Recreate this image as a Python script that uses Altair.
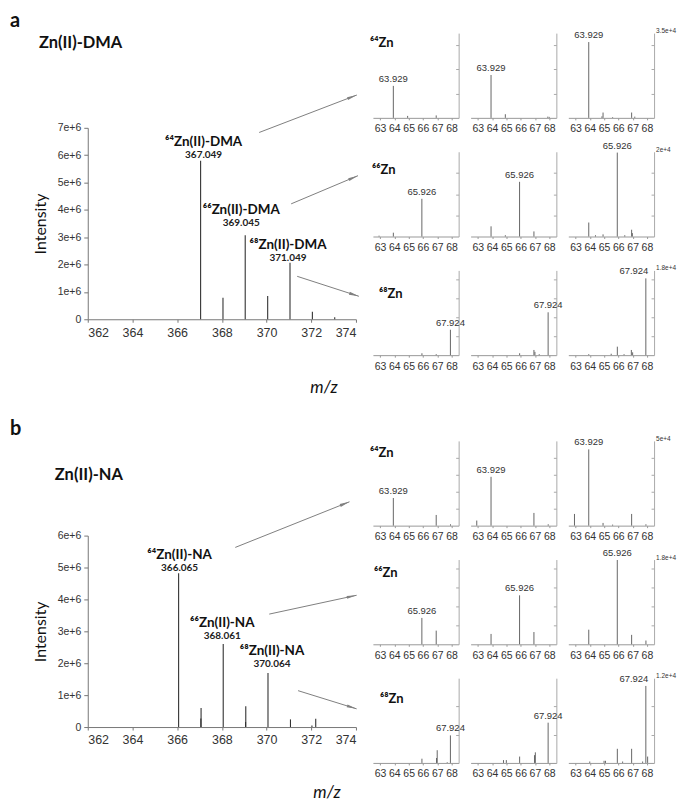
import math
import altair as alt
import pandas as pd

NUM_FONT = "Liberation Sans"
LBL_FONT = "Lato"

# ---------------- data: main spectra ----------------
mainA_mz = [367.049, 368.050, 369.045, 370.050, 371.049, 372.050, 373.050]
mainA_int = [5.80e6, 0.79e6, 3.07e6, 0.85e6, 2.07e6, 0.27e6, 0.07e6]
mainB_mz = [366.065, 367.060, 367.070, 368.061, 369.060, 369.070, 370.064, 371.070, 372.030, 372.200]
mainB_int = [4.82e6, 0.27e6, 0.60e6, 2.60e6, 0.16e6, 0.65e6, 1.69e6, 0.24e6, 0.05e6, 0.26e6]

ionA_names = ["⁶⁴Zn(II)-DMA", "⁶⁶Zn(II)-DMA", "⁶⁸Zn(II)-DMA"]
ionA_mz = [367.049, 369.045, 371.049]
ionB_names = ["⁶⁴Zn(II)-NA", "⁶⁶Zn(II)-NA", "⁶⁸Zn(II)-NA"]
ionB_mz = [366.065, 368.061, 370.064]

main_ymax = [7e6, 6e6]
section_titles = ["Zn(II)-DMA", "Zn(II)-NA"]
section_letters = ["a", "b"]

# arrows (m/z, intensity) start -> end
arrowA_x0 = [369.67, 371.10, 371.37]
arrowA_y0 = [6.83e6, 4.22e6, 1.57e6]
arrowA_x1 = [374.04, 374.09, 374.13]
arrowA_y1 = [8.20e6, 5.25e6, 0.84e6]
arrowB_x0 = [368.60, 370.12, 371.41]
arrowB_y0 = [5.63e6, 3.54e6, 1.14e6]
arrowB_x1 = [373.71, 374.03, 374.03]
arrowB_y1 = [7.06e6, 4.13e6, 0.57e6]

# ---------------- data: isotope zoom panels ----------------
iso_names = ["⁶⁴Zn", "⁶⁶Zn", "⁶⁸Zn"]
iso_mz = [63.929, 65.926, 67.924]

a64_mz = [[63.929, 64.93, 66.93], [63.929, 64.93, 67.90, 68.00],
          [63.929, 64.85, 64.93, 65.60, 66.93, 67.15]]
a64_int = [[1.32e4, 0.08e4, 0.10e4], [1.77e4, 0.15e4, 0.05e4, 0.04e4],
           [3.13e4, 0.06e4, 0.22e4, 0.03e4, 0.22e4, 0.05e4]]
a66_mz = [[62.93, 63.93, 65.926], [63.93, 64.93, 65.926, 66.93],
          [63.93, 64.40, 64.93, 65.926, 66.45, 66.93, 66.98]]
a66_int = [[0.02e4, 0.09e4, 0.89e4], [0.24e4, 0.03e4, 1.29e4, 0.12e4],
           [0.33e4, 0.03e4, 0.05e4, 1.98e4, 0.03e4, 0.16e4, 0.08e4]]
a68_mz = [[65.93, 66.93, 67.924], [65.93, 66.93, 67.00, 67.30, 67.924],
          [63.93, 65.50, 65.93, 66.40, 66.91, 67.00, 67.924]]
a68_int = [[0.04e4, 0.02e4, 0.54e4], [0.04e4, 0.11e4, 0.07e4, 0.02e4, 0.91e4],
           [0.02e4, 0.03e4, 0.18e4, 0.02e4, 0.11e4, 0.06e4, 1.63e4]]

b64_mz = [[63.929, 66.93, 67.93], [62.93, 63.929, 66.93, 67.93],
          [62.93, 63.929, 64.93, 65.60, 66.93, 67.93]]
b64_int = [[1.63e4, 0.63e4, 0.08e4], [0.30e4, 2.88e4, 0.75e4, 0.08e4],
           [0.69e4, 4.50e4, 0.16e4, 0.06e4, 0.69e4, 0.08e4]]
b66_mz = [[65.926, 66.93], [63.93, 65.926, 66.93], [63.93, 65.926, 66.93, 67.93]]
b66_int = [[0.56e4, 0.29e4], [0.22e4, 1.04e4, 0.26e4], [0.31e4, 1.79e4, 0.20e4, 0.08e4]]
b68_mz = [[65.93, 66.95, 67.00, 67.70, 67.924],
          [64.80, 65.00, 65.93, 66.97, 67.03, 67.924],
          [64.00, 65.00, 65.10, 65.93, 66.30, 66.93, 67.70, 67.924, 68.05]]
b68_int = [[0.06e4, 0.07e4, 0.18e4, 0.01e4, 0.39e4],
           [0.04e4, 0.04e4, 0.09e4, 0.11e4, 0.15e4, 0.57e4],
           [0.02e4, 0.03e4, 0.03e4, 0.20e4, 0.02e4, 0.20e4, 0.02e4, 1.09e4, 0.09e4]]

rowmaxA = [3.5e4, 2.0e4, 1.8e4]
rowmaxB = [5.0e4, 1.8e4, 1.2e4]
rowmaxA_lbl = ["3.5e+4", "2e+4", "1.8e+4"]
rowmaxB_lbl = ["5e+4", "1.8e+4", "1.2e+4"]
rowticksA = [[1e4, 2e4, 3e4], [0.5e4, 1.0e4, 1.5e4], [0.4e4, 0.8e4, 1.2e4, 1.6e4]]
rowticksB = [[1e4, 2e4, 3e4, 4e4], [0.4e4, 0.8e4, 1.2e4, 1.6e4], [0.4e4, 0.8e4]]

# ---------------- layout constants ----------------
MAIN_CELL_W, MAIN_W, MAIN_H, MAIN_TOP = 274, 269, 287, 95
SP_W, SP_H = 86, 85
ion_offsets = {  # (dx, dy name, dy value) in px
    0: [(3, -19, -6), (-4, -25, -12), (-2, -18, -5)],
    1: [(1, -18, -5), (-1, -21, -8), (4, -22, -9)],
}
iso_lbl_pos = [[(-3, 10), (-1, 18), (6, 24)], [(-3, 12), (1, 14), (7, 21)]]
title_pos = [(-49, 10), (-33, 34)]
mz_pos = [(237, 356), (240, 353)]
ARROW_PATH = "M0,0L0.6,4L-0.6,4Z"


def arrow_angle(x0, y0, x1, y1, ymax):
    px = (x1 - x0) * MAIN_W / 12.0
    py = -(y1 - y0) * (MAIN_H - MAIN_TOP) / ymax
    return math.degrees(math.atan2(px, -py)) % 360


def main_chart(s):
    mz = [mainA_mz, mainB_mz][s]
    it = [mainA_int, mainB_int][s]
    names = [ionA_names, ionB_names][s]
    imz = [ionA_mz, ionB_mz][s]
    ymax = main_ymax[s]
    xs = alt.Scale(domain=[362, 374], range=[0, MAIN_W], nice=False, zero=False)
    ys = alt.Scale(domain=[0, ymax], range=[MAIN_H, MAIN_TOP], nice=False)
    xax = alt.Axis(values=list(range(362, 375, 2)), format="d", title=None,
                   offset=MAIN_H - SP_H,
                   labelFontSize=12.5, labelFont=NUM_FONT, labelColor="#333",
                   tickSize=3, labelPadding=4, domainColor="#777", tickColor="#777")
    n = int(round(ymax / 1e6))
    yax = alt.Axis(values=[i * 1e6 for i in range(n + 1)],
                   labelExpr="datum.value == 0 ? '0' : format(datum.value, '.0e')",
                   title="Intensity", titleFont=LBL_FONT, titleFontSize=16,
                   titleFontWeight="normal", titleColor="#111", titlePadding=9,
                   labelFontSize=10.5, labelFont=NUM_FONT, labelColor="#333",
                   tickSize=4, labelPadding=3, domainColor="#777", tickColor="#777")
    X = alt.X("mz:Q", scale=xs, axis=xax)
    Y = alt.Y("I:Q", scale=ys, axis=yax)
    df = pd.DataFrame({"mz": mz, "I": it})
    layers = [
        alt.Chart(df).mark_rule(color="#333", strokeWidth=1.1).encode(x=X, y=Y, y2=alt.datum(0))
    ]
    for (name, m, (dx, dyn, dyv)) in zip(names, imz, ion_offsets[s]):
        d = pd.DataFrame({"mz": [m], "I": [it[mz.index(m)]], "name": [name],
                          "val": [f"{m:.3f}"]})
        layers.append(alt.Chart(d).mark_text(font=LBL_FONT, fontWeight="bold", fontSize=13.5,
                                             color="#111", dx=dx, dy=dyn, baseline="middle")
                      .encode(x=X, y=Y, text="name:N"))
        layers.append(alt.Chart(d).mark_text(font=LBL_FONT, fontWeight="bold", fontSize=10,
                                             color="#222", dx=dx, dy=dyv, baseline="middle")
                      .encode(x=X, y=Y, text="val:N"))
    x0 = [arrowA_x0, arrowB_x0][s]
    y0 = [arrowA_y0, arrowB_y0][s]
    x1 = [arrowA_x1, arrowB_x1][s]
    y1 = [arrowA_y1, arrowB_y1][s]
    adf = pd.DataFrame({"mz": x0, "I": y0, "mz1": x1, "I1": y1,
                        "ang": [arrow_angle(a, b, c, d, ymax) for a, b, c, d in zip(x0, y0, x1, y1)]})
    layers.append(alt.Chart(adf).mark_rule(color="#808080", strokeWidth=1, clip=False).encode(
        x=X, y=Y, x2="mz1:Q", y2="I1:Q"))
    hdf = adf[["mz1", "I1", "ang"]].rename(columns={"mz1": "mz", "I1": "I"})
    layers.append(alt.Chart(hdf).mark_point(shape=ARROW_PATH, size=25, filled=True,
                                            color="#808080", opacity=1, strokeWidth=0,
                                            clip=False).encode(
        x=X, y=Y, angle=alt.Angle("ang:Q", scale=None)))
    hdr = pd.DataFrame({"letter": [section_letters[s]], "title": [section_titles[s]],
                        "mzlab": ["m/z"]})
    layers.append(alt.Chart(hdr).mark_text(font=LBL_FONT, fontWeight="bold", fontSize=20,
                                           align="left", baseline="top", color="#111").encode(
        x=alt.value(-78), y=alt.value(-22), text="letter:N"))
    tx, ty = title_pos[s]
    layers.append(alt.Chart(hdr).mark_text(font=LBL_FONT, fontWeight="bold", fontSize=16.5,
                                           align="left", baseline="middle", color="#111").encode(
        x=alt.value(tx), y=alt.value(ty), text="title:N"))
    mx, my = mz_pos[s]
    layers.append(alt.Chart(hdr).mark_text(font=LBL_FONT, fontStyle="italic", fontSize=17,
                                           align="center", baseline="middle", color="#111").encode(
        x=alt.value(mx), y=alt.value(my), text="mzlab:N"))
    return alt.layer(*layers).properties(width=MAIN_CELL_W, height=SP_H)


def small_panel(s, r, c):
    mzs = [[a64_mz, a66_mz, a68_mz], [b64_mz, b66_mz, b68_mz]][s][r][c]
    ints = [[a64_int, a66_int, a68_int], [b64_int, b66_int, b68_int]][s][r][c]
    ymax = [rowmaxA, rowmaxB][s][r]
    ticks = [rowticksA, rowticksB][s][r]
    xs = alt.Scale(domain=[62.5, 68.5], nice=False, zero=False)
    ys = alt.Scale(domain=[0, ymax], nice=False)
    xax = alt.Axis(values=[63, 64, 65, 66, 67, 68], format="d", title=None,
                   labelFontSize=10.5, labelFont=NUM_FONT, labelColor="#333",
                   tickSize=2, labelPadding=4, domainColor="#999", tickColor="#999")
    yax = alt.Axis(orient="left", offset=-SP_W, values=ticks, labels=False, title=None,
                   tickSize=3, domainColor="#aaa", tickColor="#aaa")
    X = alt.X("mz:Q", scale=xs, axis=xax)
    Y = alt.Y("I:Q", scale=ys, axis=yax)
    df = pd.DataFrame({"mz": mzs, "I": ints})
    layers = [alt.Chart(df).mark_rule(color="#666", strokeWidth=1).encode(
        x=X, y=Y, y2=alt.datum(0))]
    m = iso_mz[r]
    lab = pd.DataFrame({"mz": [m], "I": [ints[mzs.index(m)]], "t": [f"{m:.3f}"]})
    ldx = -12 if (r == 2 and c == 2) else 0
    layers.append(alt.Chart(lab).mark_text(font=NUM_FONT, fontSize=9.5, color="#333",
                                           baseline="bottom", dy=-2, dx=ldx).encode(
        x=X, y=Y, text="t:N"))
    if c == 0:
        px, py = iso_lbl_pos[s][r]
        iso = pd.DataFrame({"t": [iso_names[r]]})
        layers.append(alt.Chart(iso).mark_text(font=LBL_FONT, fontWeight="bold", fontSize=13,
                                               align="left", baseline="middle",
                                               color="#111").encode(
            x=alt.value(px), y=alt.value(py), text="t:N"))
    if c == 2:
        mdf = pd.DataFrame({"mz": [68.5], "I": [ymax], "t": [[rowmaxA_lbl, rowmaxB_lbl][s][r]]})
        layers.append(alt.Chart(mdf).mark_text(font=NUM_FONT, fontSize=6.5, color="#333",
                                               align="left", baseline="middle", dx=2, dy=-2).encode(
            x=X, y=Y, text="t:N"))
    return alt.layer(*layers).properties(width=SP_W, height=SP_H)


def blank(w, h):
    return alt.Chart(pd.DataFrame({"t": [""]})).mark_text().encode(
        x=alt.value(0), y=alt.value(0), text="t:N").properties(width=w, height=h)


cells = []
for s in range(2):
    for r in range(3):
        cells.append(main_chart(s) if r == 0 else blank(MAIN_CELL_W, SP_H))
        for c in range(3):
            cells.append(small_panel(s, r, c))
    if s == 0:
        cells.append(blank(MAIN_CELL_W, 18))
        for c in range(3):
            cells.append(blank(SP_W, 18))

chart = alt.concat(*cells, columns=4, spacing={"row": 34, "column": 12},
                   bounds="flush", align="each",
                   padding={"left": 2, "top": 2, "right": 0, "bottom": 0}).configure_view(
    strokeWidth=0).configure_axis(grid=False)

chart.save("out.html", embed_options={"renderer": "svg", "actions": False})
